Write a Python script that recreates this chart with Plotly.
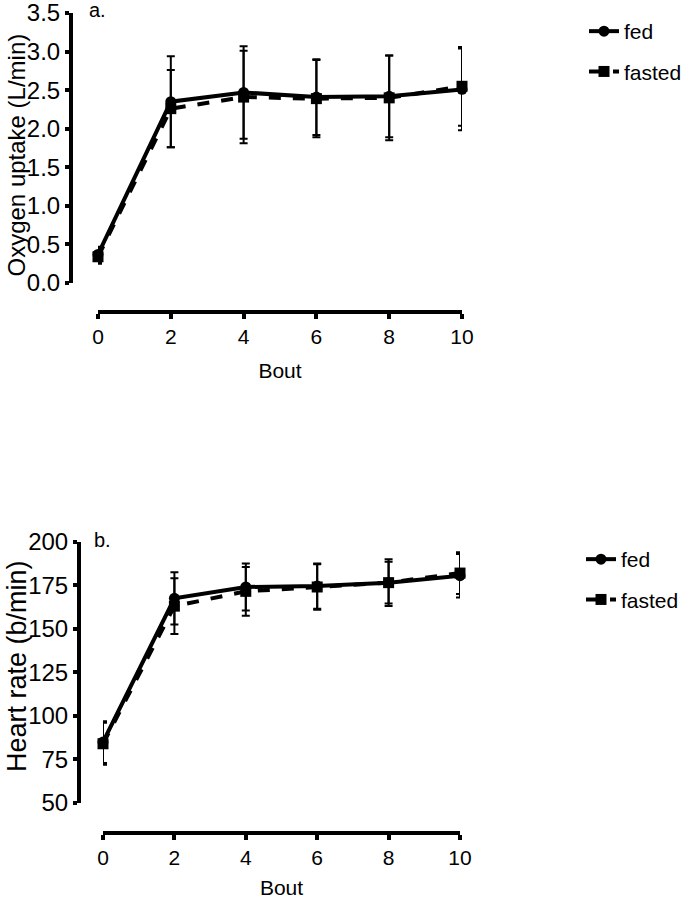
import plotly.graph_objects as go

W, H = 682, 899

bouts = [0, 2, 4, 6, 8, 10]
x_ticks = [0, 2, 4, 6, 8, 10]

# Panel a: oxygen uptake (L/min)
vo2_fed = [0.37, 2.35, 2.47, 2.41, 2.42, 2.51]
vo2_fed_err = [0.10, 0.59, 0.60, 0.49, 0.53, 0.53]
vo2_fasted = [0.34, 2.26, 2.41, 2.39, 2.40, 2.55]
vo2_fasted_err = [0.09, 0.50, 0.60, 0.50, 0.55, 0.51]
vo2_ticks = [0.0, 0.5, 1.0, 1.5, 2.0, 2.5, 3.0, 3.5]

# Panel b: heart rate (b/min)
hr_fed = [85.0, 167.5, 174.0, 174.5, 176.5, 180.5]
hr_fed_err = [12.0, 15.0, 13.5, 13.0, 13.4, 12.5]
hr_fasted = [84.0, 163.0, 171.5, 174.0, 176.5, 182.0]
hr_fasted_err = [12.0, 16.0, 14.0, 13.0, 12.0, 12.0]
hr_ticks = [50, 75, 100, 125, 150, 175, 200]

FONT = "Arial, Liberation Sans, sans-serif"


def px(v):
    return v / W


def py(v):
    return 1 - v / H


def add_series(fig, y, err, name, dash, symbol, xa, ya, legend, rank):
    fig.add_trace(go.Scatter(
        x=bouts, y=y, name=name, mode="lines+markers",
        xaxis=xa, yaxis=ya, legend=legend, legendgroup=name, legendrank=rank,
        line=dict(color="black", width=4, dash=dash),
        marker=dict(symbol=symbol, size=11, color="black"),
        error_y=dict(type="data", array=err, visible=True, color="black",
                     thickness=2, width=4),
        cliponaxis=False,
    ))


fig = go.Figure()
add_series(fig, vo2_fasted, vo2_fasted_err, "fasted", "dash", "square", "x", "y", "legend", 2)
add_series(fig, vo2_fed, vo2_fed_err, "fed", "solid", "circle", "x", "y", "legend", 1)
add_series(fig, hr_fasted, hr_fasted_err, "fasted", "dash", "square", "x2", "y2", "legend2", 2)
add_series(fig, hr_fed, hr_fed_err, "fed", "solid", "circle", "x2", "y2", "legend2", 1)

axis_common = dict(showline=True, linewidth=4, linecolor="black", ticks="outside",
                   tickwidth=4, tickcolor="black", showgrid=False, zeroline=False,
                   anchor="free", automargin=False, ticklabeloverflow="allow")

fig.update_layout(
    width=W, height=H,
    margin=dict(l=0, r=0, t=0, b=0, autoexpand=False),
    paper_bgcolor="white", plot_bgcolor="white",
    font=dict(family=FONT, color="black"),
    xaxis=dict(domain=[px(98), px(462)], range=[0, 10], tickvals=x_ticks,
               position=py(312), ticklen=5,
               tickfont=dict(size=21), title=dict(text="Bout", font=dict(size=21)),
               **axis_common),
    yaxis=dict(domain=[py(283), py(13)], range=[0, 3.5], tickvals=vo2_ticks,
               tickformat=".1f", position=px(71), ticklen=4,
               tickfont=dict(size=24), **axis_common),
    xaxis2=dict(domain=[px(103), px(460)], range=[0, 10], tickvals=x_ticks,
                position=py(833), ticklen=5,
                tickfont=dict(size=21), title=dict(text="Bout", font=dict(size=21)),
                **axis_common),
    yaxis2=dict(domain=[py(803), py(541.7)], range=[50, 200], tickvals=hr_ticks,
                position=px(79), ticklen=4,
                tickfont=dict(size=24), **axis_common),
    legend=dict(x=px(584), y=py(11), xanchor="left", yanchor="top",
                font=dict(size=21), traceorder="grouped", tracegroupgap=10,
                bgcolor="rgba(0,0,0,0)"),
    legend2=dict(x=px(581), y=py(539), xanchor="left", yanchor="top",
                 font=dict(size=21), traceorder="grouped", tracegroupgap=10,
                 bgcolor="rgba(0,0,0,0)"),
    annotations=[
        dict(text="Oxygen uptake (L/min)", x=px(1), y=py(155), xref="paper", yref="paper",
             xanchor="left", yanchor="middle", textangle=-90, showarrow=False,
             borderpad=0, font=dict(size=24)),
        dict(text="Heart rate (b/min)", x=px(1), y=py(666), xref="paper", yref="paper",
             xanchor="left", yanchor="middle", textangle=-90, showarrow=False,
             borderpad=0, font=dict(size=27)),
        dict(text="a.", x=px(87), y=py(-3), xref="paper", yref="paper",
             xanchor="left", yanchor="top", showarrow=False, font=dict(size=20)),
        dict(text="b.", x=px(92), y=py(527), xref="paper", yref="paper",
             xanchor="left", yanchor="top", showarrow=False, font=dict(size=20)),
    ],
)

fig.write_html(
    "out.html",
    config={"displayModeBar": False},
    post_script="document.body.style.margin='0px';document.body.style.overflow='hidden';",
)
